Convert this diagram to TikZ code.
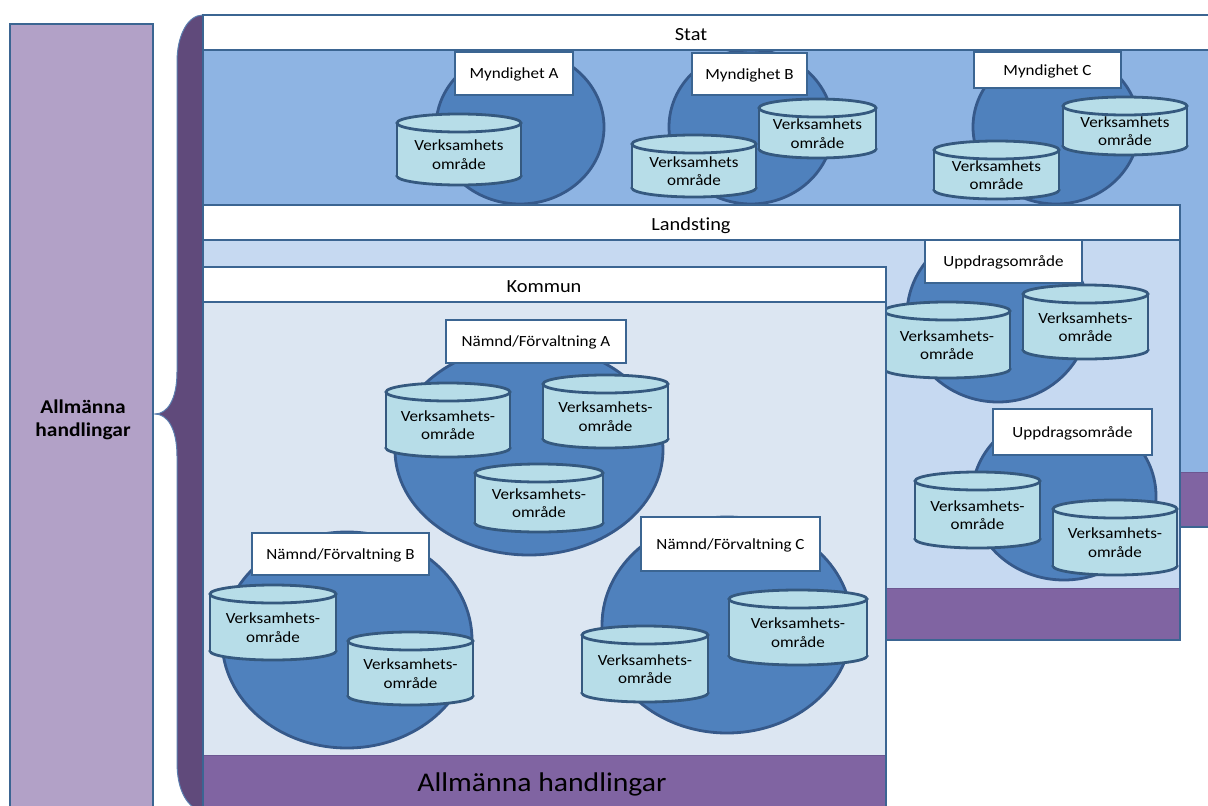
\documentclass[tikz,border=0pt]{standalone}
\usepackage{fontspec}
\setmainfont{Carlito}[FakeStretch=1.1, Ligatures=NoCommon]
\definecolor{frameblue}{HTML}{3B6592}
\definecolor{orgfill}{HTML}{4F81BD}
\definecolor{orgline}{HTML}{36598A}
\definecolor{cylfill}{HTML}{B7DDE8}
\definecolor{cylline}{HTML}{35597F}
\definecolor{statblue}{HTML}{8EB4E3}
\definecolor{landblue}{HTML}{C6D9F1}
\definecolor{kommblue}{HTML}{DCE6F2}
\definecolor{bandpurple}{HTML}{8064A2}
\definecolor{bandedge}{HTML}{6C5791}
\definecolor{bracepurple}{HTML}{604A7B}
\definecolor{braceedge}{HTML}{5B7FB0}
\definecolor{leftpurple}{HTML}{B2A1C7}

% Verksamhetsområde drawn as a cylinder: name, x1, y1, x2, y2, text
\newcommand\verksamhet[6]{%
  \pgfmathsetmacro\vcx{(#2+#4)/2}%
  \pgfmathsetmacro\vrx{(#4-#2)/2}%
  \pgfmathsetmacro\vtop{#3+9}%
  \pgfmathsetmacro\vbot{#5-9}%
  \pgfmathsetmacro\vtxt{(#3+#5)/2+5}%
  \path[cylbody] (\vcx,\vbot) ellipse[x radius=\vrx, y radius=9];
  \fill[cylfill] (#2,\vtop) rectangle (#4,\vbot);
  \draw[cylside] (#2,\vtop) -- (#2,\vbot) (#4,\vtop) -- (#4,\vbot);
  \path[cylbody] (\vcx,\vtop) ellipse[x radius=\vrx, y radius=9];
  \node[cyltext] (#1) at (\vcx,\vtxt) {#6};
}

\begin{document}
\begin{tikzpicture}[x=1pt,y=-1pt,
  frame/.style={draw=frameblue, line width=2.8pt},
  org/.style={fill=orgfill, draw=orgline, line width=2.8pt},
  cylbody/.style={fill=cylfill, draw=cylline, line width=2.8pt},
  cylside/.style={draw=cylline, line width=2.8pt},
  cyltext/.style={font=\fontsize{15.5}{18.5}\selectfont, align=center, inner sep=0pt},
  lbl/.style={draw=frameblue, fill=white, line width=2.8pt, inner sep=0pt,
    text height=10pt, text depth=0pt, font=\fontsize{15.5}{18.5}\selectfont},
  hdr/.style={font=\fontsize{18.5}{22}\selectfont, inner sep=0pt, anchor=base},
  bandsep/.style={draw=bandedge, line width=1pt},
]
\useasboundingbox (0,0) rectangle (1208,806);
\clip (0,0) rectangle (1208,806);

% curly brace joining the three levels
\filldraw[fill=bracepurple, draw=braceedge, line width=1pt]
  (203,15) .. controls (188,15) and (177,35) .. (177,62)
  -- (177,372) .. controls (177,400) and (167,414) .. (155,414)
  .. controls (167,414) and (177,428) .. (177,456)
  -- (177,762) .. controls (177,792) and (188,808) .. (203,812) -- cycle;

% ---------- Stat ----------
\fill[white] (203,15) rectangle (1230,50);
\fill[statblue] (203,50) rectangle (1230,472);
\fill[bandpurple] (203,472) rectangle (1230,527);
\draw[bandsep] (1180,472) -- (1230,472);
\begin{scope}
  \clip (203,50) rectangle (1230,472);
  \path[org] (520,127) ellipse[x radius=84, y radius=77];
  \path[org] (751,127) ellipse[x radius=82, y radius=77];
  \path[org] (1056,127) ellipse[x radius=83, y radius=77];
  \node[lbl, minimum width=118, minimum height=43] (mynA) at (514,73.5) {Myndighet A};
  \node[lbl, minimum width=115, minimum height=42] (mynB) at (749.5,74) {Myndighet B};
  \node[lbl, minimum width=147, minimum height=36] (mynC) at (1047.5,70) {Myndighet C};
  \verksamhet{sA}{397}{114}{521}{185}{Verksamhets\\område}
  \verksamhet{sB1}{632}{135}{756}{197}{Verksamhets\\område}
  \verksamhet{sB2}{759}{99}{876}{158}{Verksamhets\\område}
  \verksamhet{sC1}{934}{141}{1059}{199}{Verksamhets\\område}
  \verksamhet{sC2}{1063}{97}{1187}{155}{Verksamhets\\område}
\end{scope}
\draw[frame] (203,50) -- (1230,50);
\draw[frame] (203,15) rectangle (1230,527);
\node[hdr] (stat) at (691,40.5) {Stat};

% ---------- Landsting ----------
\fill[white] (203,205) rectangle (1180,240);
\fill[landblue] (203,240) rectangle (1180,588);
\fill[bandpurple] (203,588) rectangle (1180,640);
\draw[bandsep] (886,588) -- (1180,588);
\begin{scope}
  \clip (203,240) rectangle (1180,588);
  \path[org] (998,315) ellipse[x radius=91, y radius=87];
  \path[org] (1064,496) ellipse[x radius=92, y radius=84];
  \node[lbl, minimum width=157, minimum height=43] (uppA) at (1003.5,261.5) {Uppdragsområde};
  \node[lbl, minimum width=159, minimum height=46] (uppB) at (1072.5,432) {Uppdragsområde};
  \verksamhet{uA1}{884}{302}{1010}{378}{Verksamhets-\\område}
  \verksamhet{uA2}{1023}{285}{1148}{359}{Verksamhets-\\område}
  \verksamhet{uB1}{915}{472}{1040}{548}{Verksamhets-\\område}
  \verksamhet{uB2}{1053}{500}{1177}{575}{Verksamhets-\\område}
\end{scope}
\draw[frame] (203,240) -- (1180,240);
\draw[frame] (203,205) rectangle (1180,640);
\node[hdr] (landsting) at (691,230.5) {Landsting};

% ---------- Kommun ----------
\fill[white] (203,267) rectangle (886,302);
\fill[kommblue] (203,302) rectangle (886,755);
\fill[bandpurple] (203,755) rectangle (886,820);
\draw[bandsep] (203,755) -- (886,755);
\begin{scope}
  \clip (203,302) rectangle (886,755);
  \path[org] (529,450) ellipse[x radius=134, y radius=105];
  \path[org] (347,640) ellipse[x radius=125, y radius=108];
  \path[org] (727,625) ellipse[x radius=125, y radius=108];
  \node[lbl, minimum width=180, minimum height=43] (namA) at (536,341.5) {Nämnd/Förvaltning A};
  \node[lbl, minimum width=177, minimum height=42] (namB) at (340.5,554) {Nämnd/Förvaltning B};
  \node[lbl, minimum width=179, minimum height=54] (namC) at (730.5,544) {Nämnd/Förvaltning C};
  \verksamhet{kA1}{386}{383}{510}{457}{Verksamhets-\\område}
  \verksamhet{kA2}{543}{375}{668}{448}{Verksamhets-\\område}
  \verksamhet{kA3}{475}{464}{603}{532}{Verksamhets-\\område}
  \verksamhet{kB1}{210}{585}{336}{660}{Verksamhets-\\område}
  \verksamhet{kB2}{348}{632}{473}{705}{Verksamhets-\\område}
  \verksamhet{kC1}{582}{626}{708}{702}{Verksamhets-\\område}
  \verksamhet{kC2}{729}{590}{867}{665}{Verksamhets-\\område}
\end{scope}
\draw[frame] (203,302) -- (886,302);
\draw[frame] (203,267) rectangle (886,820);
\node[hdr] (kommun) at (544,292.5) {Kommun};
\node[hdr, font=\fontsize{27}{32}\selectfont] (handl) at (542,791) {Allmänna handlingar};

% ---------- left column ----------
\draw[frame, fill=leftpurple] (10,24) rectangle (153,820);
\node[font=\bfseries\fontsize{19.5}{23}\selectfont, align=center, inner sep=0pt]
  (allm) at (83,420) {Allmänna\\handlingar};
\end{tikzpicture}
\end{document}
